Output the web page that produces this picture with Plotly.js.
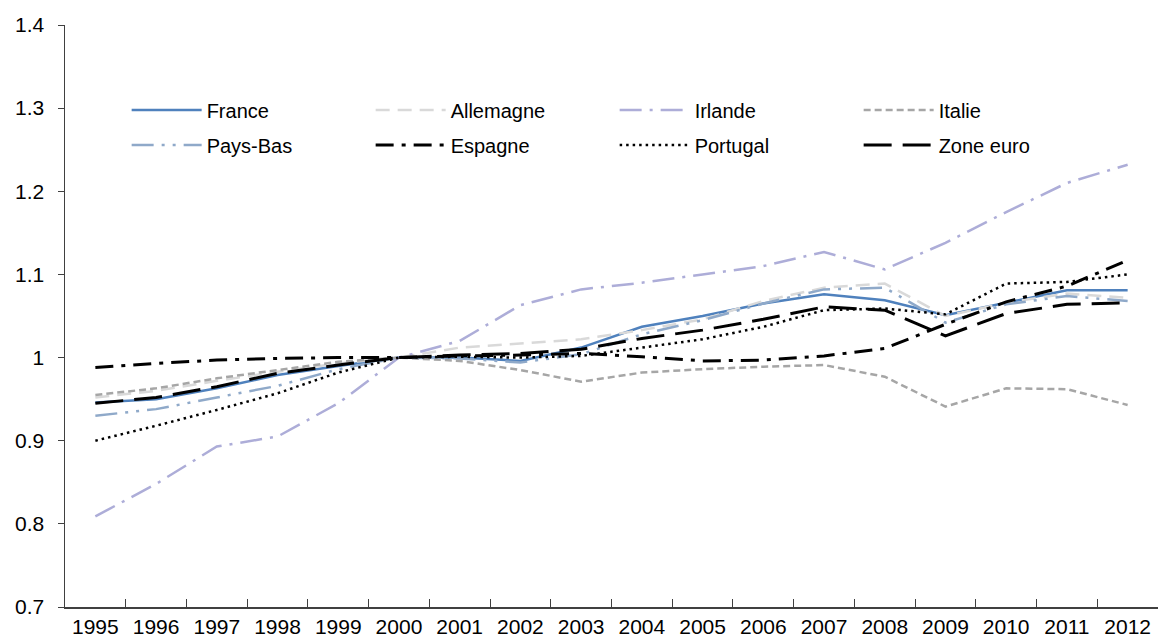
<!DOCTYPE html>
<html>
<head>
<meta charset="utf-8">
<script src="https://cdn.plot.ly/plotly-3.0.1.min.js"></script>
<style>
html,body{margin:0;padding:0;background:#fff;}
#chart{width:1158px;height:643px;}
</style>
</head>
<body>
<div id="chart"></div>
<script>
const years = ["1995","1996","1997","1998","1999","2000","2001","2002","2003","2004","2005","2006","2007","2008","2009","2010","2011","2012"];

const france    = [0.946,0.950,0.963,0.979,0.990,1.000,1.000,0.996,1.012,1.037,1.050,1.065,1.076,1.069,1.051,1.066,1.081,1.081];
const allemagne = [0.952,0.960,0.972,0.983,0.993,1.000,1.012,1.017,1.022,1.033,1.046,1.068,1.084,1.089,1.050,1.066,1.077,1.072];
const irlande   = [0.809,0.848,0.893,0.905,0.945,1.000,1.020,1.063,1.082,1.090,1.100,1.110,1.127,1.106,1.138,1.175,1.210,1.232];
const italie    = [0.955,0.963,0.975,0.985,0.995,1.000,0.996,0.985,0.971,0.982,0.986,0.989,0.991,0.977,0.941,0.963,0.962,0.943];
const paysBas   = [0.930,0.938,0.952,0.966,0.986,1.000,0.999,0.994,1.004,1.028,1.045,1.065,1.082,1.084,1.042,1.064,1.074,1.068];
const espagne   = [0.988,0.993,0.997,0.999,1.000,1.000,1.002,1.003,1.005,1.001,0.996,0.997,1.002,1.011,1.040,1.067,1.086,1.117];
const portugal  = [0.900,0.918,0.937,0.957,0.982,1.000,1.001,1.000,1.002,1.012,1.022,1.037,1.057,1.059,1.052,1.089,1.091,1.100];
const zoneEuro  = [0.945,0.952,0.965,0.981,0.991,1.000,1.003,1.005,1.010,1.023,1.033,1.046,1.061,1.057,1.026,1.053,1.064,1.066];

const seriesNames = ["France","Allemagne","Irlande","Italie","Pays-Bas","Espagne","Portugal","Zone euro"];
const seriesData  = [france, allemagne, irlande, italie, paysBas, espagne, portugal, zoneEuro];
const seriesStyle = [
  {color:"#4F81BD", dash:"solid", width:2.5},
  {color:"#D9D9D9", dash:"14px,8px", width:2.5},
  {color:"#ADADD8", dash:"22px,8px,3px,8px", width:2.5},
  {color:"#A6A6A6", dash:"7px,4px", width:2.5},
  {color:"#8FA9C9", dash:"22px,8px,3px,8px,3px,8px", width:2.5},
  {color:"#000000", dash:"18px,8px,4px,8px", width:3},
  {color:"#000000", dash:"2.5px,4px", width:2.5},
  {color:"#000000", dash:"28px,11px", width:3}
];

const traces = seriesNames.map((n,i)=>({
  type:"scatter", mode:"lines", name:n, x:years, y:seriesData[i],
  line:{color:seriesStyle[i].color, dash:seriesStyle[i].dash, width:seriesStyle[i].width},
  legend: i<4 ? "legend" : "legend2",
  hoverinfo:"skip"
}));

const fontFam = "Liberation Sans, Arial, sans-serif";
const legCommon = {
  orientation:"h", entrywidth:159, entrywidthmode:"pixels", itemwidth:70,
  font:{family:fontFam, size:20, color:"#000"}, bgcolor:"rgba(0,0,0,0)",
  xanchor:"left", yanchor:"middle", traceorder:"normal"
};

const layout = {
  width:1158, height:643,
  margin:{l:65, r:0, t:25, b:36},
  paper_bgcolor:"#fff", plot_bgcolor:"#fff",
  font:{family:fontFam, size:21, color:"#000"},
  showlegend:true,
  legend:Object.assign({}, legCommon, {x:0.0564, y:0.854}),
  legend2:Object.assign({}, legCommon, {x:0.0564, y:0.794}),
  xaxis:{
    type:"category", showgrid:false, zeroline:false,
    showline:true, linecolor:"#404040", linewidth:1.5,
    ticks:"inside", ticklen:8, tickcolor:"#404040", tickwidth:1,
    tickson:"boundaries", tickfont:{size:21}, fixedrange:true,
    range:[-0.5,17.5]
  },
  yaxis:{
    range:[0.7,1.4], dtick:0.1, tick0:0.7, showgrid:false, zeroline:false,
    showline:true, linecolor:"#404040", linewidth:1.5,
    ticks:"outside", ticklen:6, tickcolor:"#404040",
    tickfont:{size:21}, ticklabelstandoff:9, fixedrange:true
  }
};

Plotly.newPlot("chart", traces, layout, {displayModeBar:false, staticPlot:true});
</script>
</body>
</html>
